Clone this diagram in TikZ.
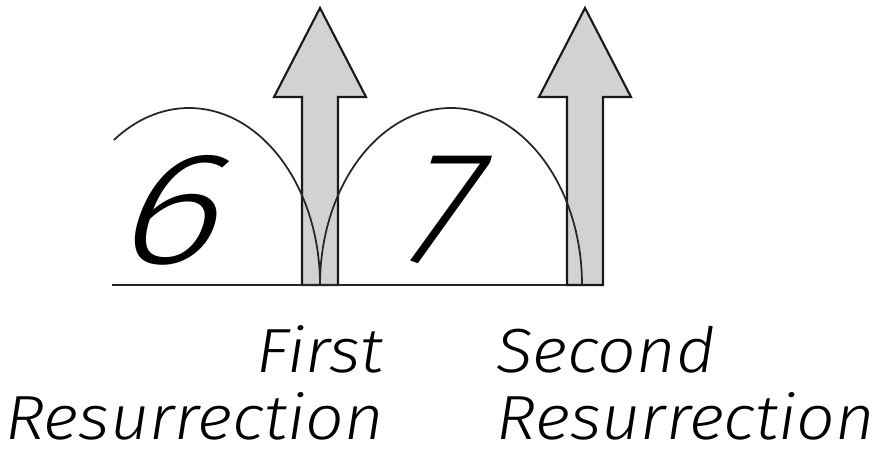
\documentclass[tikz,border=0pt]{standalone}
\usepackage{fontspec}
\newfontfamily\handfont[FakeStretch=1.09]{Fira Sans Light Italic}
\newfontfamily\digitfont[FakeSlant=0.3]{Fira Sans Light}
\usetikzlibrary{calc}
\definecolor{cDot}{HTML}{D2D2D2}
\tikzset{
    ground/.style ={line width=1.3pt, black!85},
    dome/.style   ={line width=1.0pt, black!85},
    rise/.style   ={draw=black!90, fill=cDot, line width=1.2pt, line join=miter},
    num/.style    ={font=\digitfont\fontsize{91}{91}\selectfont, inner sep=0pt, anchor=base},
    lbl/.style    ={font=\handfont\fontsize{35.5}{38.1}\selectfont, inner sep=0pt,
                    text depth=0pt},
}
% up-pointing block arrow: #1 = x of its axis
\newcommand{\risearrow}[1]{%
  \draw[rise] (#1-0.36,3.32) -- (#1-0.36,7.08) -- (#1-0.92,7.08) -- (#1,8.86)
      -- (#1+0.92,7.08) -- (#1+0.36,7.08) -- (#1+0.36,3.32) -- cycle;}

\begin{document}
\begin{tikzpicture}[x=1cm, y=1cm]
\useasboundingbox (0,0) rectangle (17.68,9.02);

% ===================== Puntos de referencia =====================
\coordinate (gl) at (2.24,3.32);
\coordinate (r1) at (6.40,3.32);
\coordinate (r2) at (11.70,3.32);

% ===================== Flechas =====================
\risearrow{6.40}
\risearrow{11.70}

% ===================== Linea base y arcos =====================
\draw[ground] (gl) -- ($(r2)+(-0.36,0)$);
\draw[dome] (r1) arc[start angle=0, end angle=125, x radius=2.62, y radius=3.54];
\draw[dome] (r1) arc[start angle=180, end angle=0, x radius=2.62, y radius=3.54];

% ===================== Numeros =====================
\node[num, xscale=1.2, transform shape] (six) at (3.22,3.76) {6};
\node[num] (seven) at (8.62,3.78) {7};

% ===================== Rotulos =====================
\node[lbl, align=right, anchor=base east] (first)  at (7.68,0.24)
     {First\\Resurrection};
\node[lbl, align=left,  anchor=base west] (second) at (9.92,0.24)
     {Second\\Resurrection};

\end{tikzpicture}
\end{document}
